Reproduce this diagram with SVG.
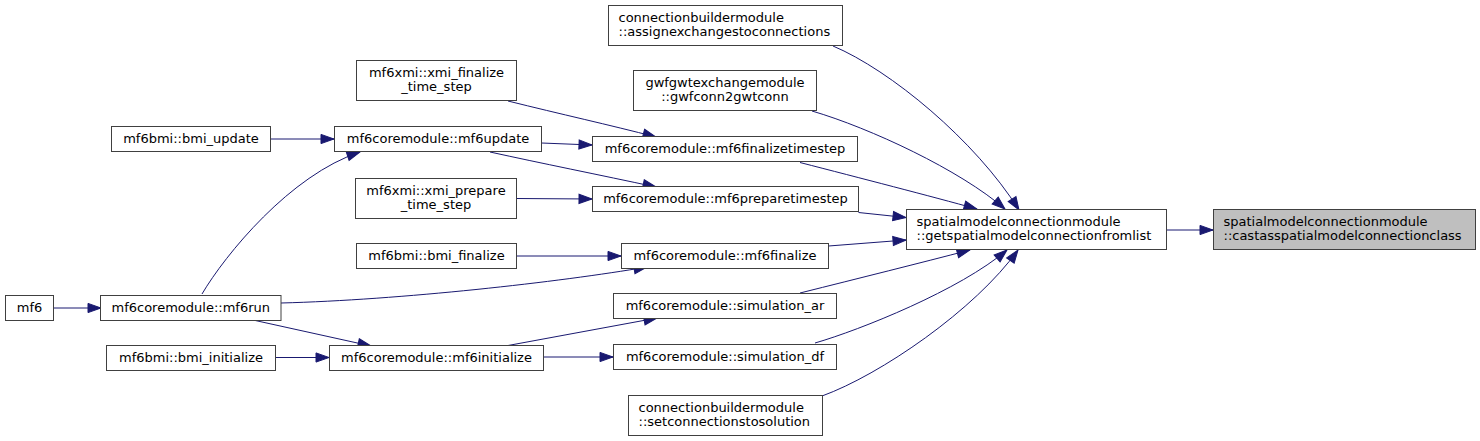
<svg xmlns="http://www.w3.org/2000/svg" width="1480" height="441" viewBox="0 0 1480 441">
<style>
.n rect{fill:#ffffff;stroke:#404040;stroke-width:1}
.n.hl rect{fill:#bfbfbf}
.n text{font-family:"DejaVu Sans","Liberation Sans",sans-serif;font-size:13px;fill:#000000}
.c{text-anchor:middle}
.l{text-anchor:start}
#edges path{fill:none;stroke:#191970;stroke-width:1;marker-end:url(#ah)}
</style>
<defs>
<marker id="ah" markerUnits="userSpaceOnUse" markerWidth="15" markerHeight="12" refX="13" refY="5" orient="auto" overflow="visible">
<path d="M0,0.4 L13,5 L0,9.6 z" fill="#191970" stroke="#191970" stroke-width="1"/>
</marker>
</defs>
<rect width="1480" height="441" fill="#ffffff"/>
<g id="edges">
<path d="M53.5,308 L101,308"/>
<path d="M271,139 L334,139"/>
<path d="M202,294 C225,255 290,175 360,152"/>
<path d="M508,101 C560,114 610,125 656,137"/>
<path d="M541.5,143 L592,145"/>
<path d="M490,152 C540,163 600,175 656,187"/>
<path d="M516.5,198.5 L592,199"/>
<path d="M833,46 C890,70 975,140 1019,210"/>
<path d="M812,111 C870,128 960,170 1005,209"/>
<path d="M800,162.5 C860,178 930,196 977,209"/>
<path d="M858.5,212.5 L906,217.5"/>
<path d="M828.5,246 L906,240"/>
<path d="M800,293 C860,278 920,263 970,250"/>
<path d="M815,343 C860,330 960,290 1007,250"/>
<path d="M822,396 C880,375 975,310 1018,250"/>
<path d="M1166.5,230 L1213,230"/>
<path d="M516.5,256 L621,256"/>
<path d="M281,303 C400,300 560,282 647,267"/>
<path d="M253,320 L371,346"/>
<path d="M275.5,357.5 L329,357.5"/>
<path d="M508,345.5 L657,318"/>
<path d="M543.5,357 L613,357"/>
</g>
<g id="mf6" class="n"><rect x="5.5" y="295.5" width="48" height="25"/><text class="c" x="29.5" y="312">mf6</text></g>
<g id="mf6run" class="n"><rect x="100.5" y="295.5" width="180.5" height="25"/><text class="c" x="190.75" y="312">mf6coremodule::mf6run</text></g>
<g id="bmi_update" class="n"><rect x="111.5" y="126.5" width="159" height="25"/><text class="c" x="191" y="143">mf6bmi::bmi_update</text></g>
<g id="mf6update" class="n"><rect x="334.5" y="126.5" width="207" height="25"/><text class="c" x="438" y="143">mf6coremodule::mf6update</text></g>
<g id="xmi_finalize" class="n"><rect x="356.5" y="60.5" width="160" height="40"/><text class="c" x="436.5" y="76.5">mf6xmi::xmi_finalize</text><text class="c" x="436.5" y="91">_time_step</text></g>
<g id="xmi_prepare" class="n"><rect x="355.5" y="178.5" width="161" height="40"/><text class="c" x="436" y="194.5">mf6xmi::xmi_prepare</text><text class="c" x="436" y="209">_time_step</text></g>
<g id="bmi_finalize" class="n"><rect x="356.5" y="243.5" width="160" height="25"/><text class="c" x="436.5" y="260">mf6bmi::bmi_finalize</text></g>
<g id="bmi_initialize" class="n"><rect x="106.5" y="345.5" width="169" height="25"/><text class="c" x="191" y="362">mf6bmi::bmi_initialize</text></g>
<g id="mf6initialize" class="n"><rect x="329.5" y="345.5" width="214" height="25"/><text class="c" x="436.5" y="362">mf6coremodule::mf6initialize</text></g>
<g id="assignexchanges" class="n"><rect x="608.5" y="5.5" width="234" height="40"/><text class="l" x="618.5" y="21.5">connectionbuildermodule</text><text class="l" x="618.5" y="36">::assignexchangestoconnections</text></g>
<g id="gwfconn2gwtconn" class="n"><rect x="633.5" y="70.5" width="183" height="40"/><text class="c" x="725" y="86.5">gwfgwtexchangemodule</text><text class="c" x="725" y="101">::gwfconn2gwtconn</text></g>
<g id="mf6finalizetimestep" class="n"><rect x="592.5" y="136.5" width="265" height="25"/><text class="c" x="725" y="153">mf6coremodule::mf6finalizetimestep</text></g>
<g id="mf6preparetimestep" class="n"><rect x="592.5" y="186.5" width="266" height="25"/><text class="c" x="725.5" y="203">mf6coremodule::mf6preparetimestep</text></g>
<g id="mf6finalize" class="n"><rect x="621.5" y="243.5" width="207" height="25"/><text class="c" x="725" y="260">mf6coremodule::mf6finalize</text></g>
<g id="simulation_ar" class="n"><rect x="613.5" y="293.5" width="223" height="25"/><text class="c" x="725" y="310">mf6coremodule::simulation_ar</text></g>
<g id="simulation_df" class="n"><rect x="613.5" y="344.5" width="223" height="25"/><text class="c" x="725" y="361">mf6coremodule::simulation_df</text></g>
<g id="setconnections" class="n"><rect x="628.5" y="395.5" width="194" height="40"/><text class="l" x="638.5" y="411.5">connectionbuildermodule</text><text class="l" x="638.5" y="426">::setconnectionstosolution</text></g>
<g id="getspatial" class="n"><rect x="906.5" y="209.5" width="260" height="40"/><text class="l" x="916.5" y="225.5">spatialmodelconnectionmodule</text><text class="l" x="916.5" y="240">::getspatialmodelconnectionfromlist</text></g>
<g id="castas" class="n hl"><rect x="1213.5" y="209.5" width="262" height="40"/><text class="l" x="1223.5" y="225.5">spatialmodelconnectionmodule</text><text class="l" x="1223.5" y="240">::castasspatialmodelconnectionclass</text></g>
</svg>
